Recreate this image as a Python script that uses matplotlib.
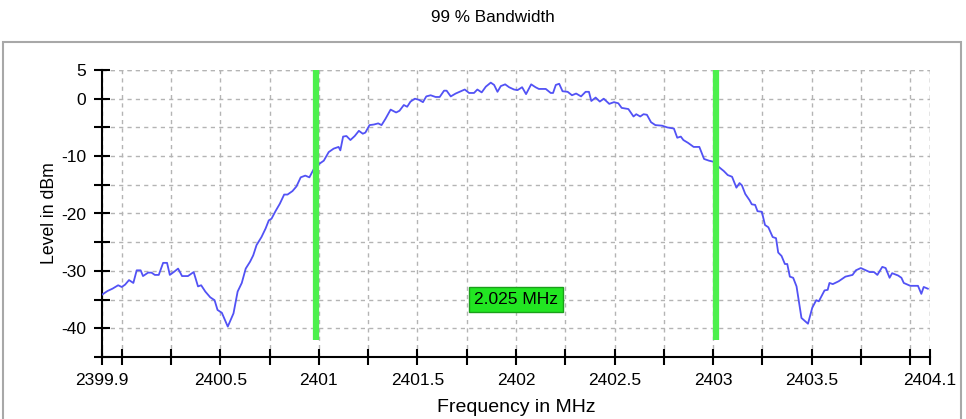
import matplotlib
matplotlib.use("Agg")
import matplotlib.pyplot as plt
from matplotlib.patches import Rectangle
import numpy as np

plt.rcParams['font.family'] = ['Liberation Sans', 'DejaVu Sans']

freq_mhz = [
    2399.902, 2399.928, 2399.953, 2399.982, 2400.000, 2400.017, 2400.037, 2400.059,
    2400.076, 2400.096, 2400.108, 2400.134, 2400.151, 2400.168, 2400.188, 2400.210,
    2400.230, 2400.244, 2400.264, 2400.286, 2400.306, 2400.336, 2400.365, 2400.387,
    2400.403, 2400.424, 2400.449, 2400.471, 2400.486, 2400.508, 2400.538, 2400.567,
    2400.588, 2400.609, 2400.629, 2400.651, 2400.667, 2400.684, 2400.709, 2400.730,
    2400.746, 2400.760, 2400.780, 2400.802, 2400.824, 2400.841, 2400.866, 2400.886,
    2400.908, 2400.931, 2400.952, 2400.975,
    2401.000, 2401.025, 2401.050, 2401.075, 2401.100, 2401.109, 2401.123, 2401.140,
    2401.160, 2401.182, 2401.203, 2401.223, 2401.236, 2401.257, 2401.279, 2401.301,
    2401.318, 2401.338, 2401.364, 2401.392, 2401.409, 2401.431, 2401.448, 2401.465,
    2401.487, 2401.508, 2401.528, 2401.545, 2401.567, 2401.592, 2401.613, 2401.635,
    2401.648, 2401.669, 2401.694, 2401.714, 2401.740, 2401.762, 2401.787, 2401.804,
    2401.826, 2401.847, 2401.872, 2401.889, 2401.906, 2401.923, 2401.945, 2401.965,
    2401.990,
    2402.008, 2402.031, 2402.051, 2402.077, 2402.099, 2402.116, 2402.151, 2402.176,
    2402.188, 2402.202, 2402.219, 2402.236, 2402.262, 2402.284, 2402.305, 2402.330,
    2402.353, 2402.370, 2402.382, 2402.404, 2402.425, 2402.445, 2402.473, 2402.497,
    2402.519, 2402.536, 2402.570, 2402.596, 2402.610, 2402.630, 2402.647, 2402.664,
    2402.685, 2402.707, 2402.741, 2402.767, 2402.801, 2402.818, 2402.836, 2402.849,
    2402.873, 2402.901, 2402.930,
    2402.954, 2402.979, 2403.004, 2403.029, 2403.054, 2403.074, 2403.096, 2403.118,
    2403.134, 2403.146, 2403.163, 2403.185, 2403.196, 2403.213, 2403.225, 2403.247,
    2403.263, 2403.280, 2403.302, 2403.319, 2403.330, 2403.347, 2403.364, 2403.376,
    2403.389, 2403.406, 2403.423, 2403.448, 2403.481, 2403.503, 2403.523, 2403.536,
    2403.565, 2403.581, 2403.590, 2403.607, 2403.637, 2403.671, 2403.707, 2403.724,
    2403.749, 2403.774, 2403.794, 2403.816, 2403.833, 2403.858, 2403.875, 2403.895,
    2403.908, 2403.938, 2403.955, 2403.967, 2404.000, 2404.039, 2404.056, 2404.068,
    2404.089,
]
level_dbm = [
    -34.1, -33.5, -33.1, -32.5, -32.8, -32.4, -31.6, -32.1,
    -29.9, -29.9, -30.9, -30.3, -30.3, -30.7, -30.7, -28.6,
    -28.6, -30.7, -30.2, -29.6, -30.9, -30.9, -30.2, -32.7,
    -32.5, -33.6, -34.6, -35.1, -36.8, -37.3, -39.7, -37.4,
    -33.6, -32.1, -29.6, -28.4, -27.3, -25.5, -24.1, -22.6,
    -21.2, -20.9, -19.6, -18.3, -16.7, -16.7, -16.1, -15.3,
    -13.7, -13.4, -13.7, -12.2,
    -11.4, -10.8, -9.3, -8.7, -8.4, -9.0, -6.6, -6.5,
    -7.2, -6.5, -5.6, -6.1, -5.9, -4.6, -4.5, -4.3,
    -4.6, -3.5, -1.9, -2.4, -2.1, -1.1, -1.4, -0.5,
    0.0, -0.2, -0.6, 0.4, 0.6, 0.3, 0.3, 1.4,
    1.4, 0.4, 0.9, 1.2, 1.6, 1.0, 1.0, 1.6,
    1.1, 2.1, 2.8, 2.4, 1.2, 2.2, 2.5, 2.0,
    1.6,
    1.5, 2.0, 0.8, 2.5, 2.0, 1.7, 1.7, 1.0,
    1.0, 2.4, 2.6, 1.3, 1.2, 0.6, 0.9, 0.4,
    1.2, 1.2, -0.4, 0.2, -0.5, 0.0, -0.9, -0.6,
    -0.8, -1.6, -1.8, -3.1, -2.7, -3.1, -2.7, -2.8,
    -4.1, -4.6, -4.7, -5.0, -5.2, -6.8, -6.6, -7.2,
    -7.7, -8.4, -8.4,
    -10.5, -10.8, -11.0, -11.9, -12.6, -13.3, -13.6, -15.5,
    -14.7, -15.1, -16.6, -17.7, -18.4, -18.5, -19.6, -19.7,
    -22.0, -22.4, -24.1, -24.3, -26.8, -27.4, -28.8, -28.8,
    -31.0, -31.2, -32.7, -38.2, -39.2, -36.4, -35.1, -35.3,
    -33.4, -33.3, -32.1, -32.3, -31.8, -31.0, -30.7, -29.9,
    -29.5, -29.9, -30.2, -30.2, -30.7, -29.3, -29.5, -31.2,
    -30.4, -30.8, -31.2, -32.1, -32.6, -32.6, -34.0, -32.8,
    -33.1,
]
markers_mhz = [2400.9875, 2403.0125]
bandwidth_label = "2.025 MHz"
x_tick_labels = ["2399.9", "2400.5", "2401", "2401.5", "2402", "2402.5", "2403", "2403.5", "2404.1"]
y_tick_labels = ["5", "0", "-10", "-20", "-30", "-40"]

fig = plt.figure(figsize=(9.66, 4.19), dpi=100)
ax = fig.add_axes([102/966, 1-357/419, (930-102)/966, (357-70)/419])

# outer frame
fig.patches.append(Rectangle((3/966, -0.05), (961-3)/966, 1.05 - 42/419,
                             transform=fig.transFigure, fill=False,
                             edgecolor='#a8a8a8', linewidth=1.5))
fig.text(0.51, 1-17/419, "99 % Bandwidth", ha='center', va='center', fontsize=12.3)

ax.set_xlim(2399.9, 2404.1)
ax.set_ylim(-45, 5)

xt = [2399.9] + list(np.arange(2400.0, 2404.01, 0.25)) + [2404.1]
ax.set_xticks(xt)
xl = []
for v in xt:
    s = ""
    for lab in x_tick_labels:
        if abs(float(lab) - v) < 1e-6:
            s = lab
    xl.append(s)
ax.set_xticklabels(xl)
yt = list(np.arange(-45, 5.01, 5))
ax.set_yticks(yt)
yl = []
for v in yt:
    s = ""
    for lab in y_tick_labels:
        if abs(float(lab) - v) < 1e-6:
            s = lab
    yl.append(s)
ax.set_yticklabels(yl)

ax.tick_params(direction='inout', length=11, width=1.5, labelsize=12.5, pad=6)
for s in ['top', 'right']:
    ax.spines[s].set_visible(False)
for s in ['left', 'bottom']:
    ax.spines[s].set_linewidth(1.5)

ax.grid(True, color='#b4b4b4', linestyle=(0, (3, 3)), linewidth=1)
ax.set_axisbelow(True)
ax.axhline(5, color='#b4b4b4', linestyle=(0, (3, 3)), linewidth=1, zorder=0.5)
ax.axvline(2404.1, color='#b4b4b4', linestyle=(0, (3, 3)), linewidth=1, zorder=0.5)

ax.plot(freq_mhz, level_dbm, color='#5252f5', linewidth=1.3, zorder=3)
ax.vlines(markers_mhz, -42, 5, color='#4cf04c', linewidth=4.5, zorder=4)

ax.text(sum(markers_mhz)/2, -35, bandwidth_label, ha='center', va='center', fontsize=12.5,
        bbox=dict(boxstyle='square,pad=0.3', facecolor='#22e622', edgecolor='#1aa01a', linewidth=1),
        zorder=5)

ax.set_xlabel("Frequency in MHz", fontsize=14)
ax.set_ylabel("Level in dBm", fontsize=12.7)
ax.xaxis.label.set_va('center')
ax.yaxis.label.set_va('center')
ax.xaxis.set_label_coords(0.5, (357-407)/287)
ax.yaxis.set_label_coords((50-102)/828, 0.5)

fig.savefig("out.png", dpi=100)
